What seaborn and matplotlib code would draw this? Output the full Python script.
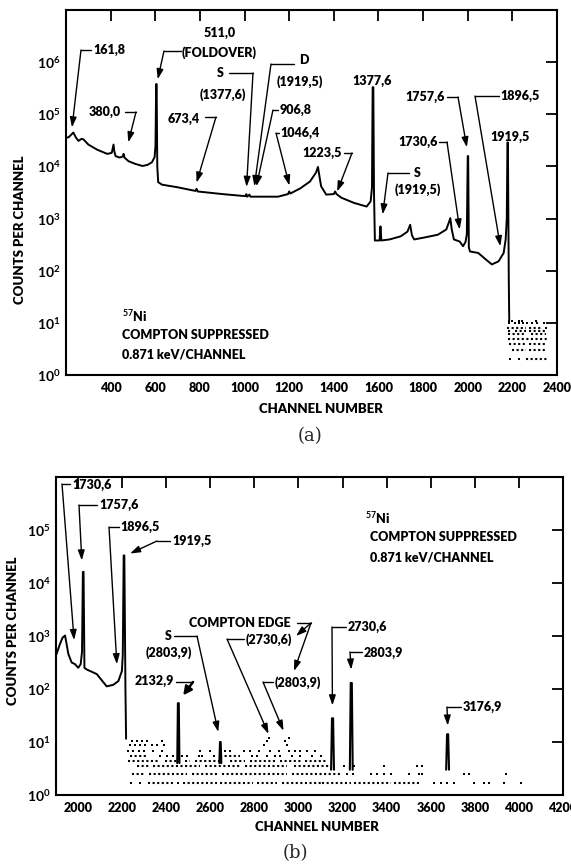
import matplotlib
matplotlib.use("Agg")
import matplotlib.pyplot as plt
import seaborn as sns
import pandas as pd
from matplotlib.lines import Line2D
from matplotlib.ticker import FixedLocator, FixedFormatter, NullLocator

# ---------------- data: panel (a) ----------------
a_channel = [200, 212, 233, 245, 256, 270, 278, 300, 340, 385,
             405, 413, 416, 422, 440, 455, 458, 462, 480, 510,
             543, 565, 585, 597, 601, 604, 606, 609, 613, 630,
             700, 780, 785, 790, 900, 1004, 1008, 1012, 1022, 1026,
             1080, 1150, 1195, 1200, 1205, 1250, 1293, 1320, 1329, 1336,
             1343, 1366, 1400, 1406, 1412, 1434, 1490, 1547, 1565, 1571,
             1574, 1577, 1580, 1584, 1605, 1609, 1613, 1650, 1700, 1730,
             1742, 1750, 1760, 1810, 1866, 1904, 1915, 1922, 1928, 1938,
             1964, 1979, 1990, 1996, 2000, 2002, 2005, 2010, 2047, 2080,
             2108, 2138, 2161, 2170, 2175, 2178, 2180, 2184, 2186]
a_counts = [35500, 36300, 44700, 35500, 30900, 33900, 33100, 26300, 20900, 17400,
            18200, 26300, 20000, 15800, 14800, 15500, 17400, 14800, 12600, 11200,
            10200, 10700, 12000, 15100, 25100, 380000, 380000, 10000, 5000, 4470,
            3980, 3390, 3720, 3310, 2950, 2690, 2950, 2630, 2880, 2630,
            2630, 2630, 2950, 3310, 3020, 3800, 5130, 7590, 9770, 6310,
            4170, 2880, 2950, 3310, 2950, 2510, 2000, 1700, 2140, 3980,
            331000, 331000, 3160, 380, 380, 708, 380, 398, 457, 562,
            759, 479, 398, 437, 490, 617, 832, 1020, 631, 398,
            363, 295, 355, 501, 15800, 15800, 282, 234, 219, 166,
            132, 151, 219, 398, 1000, 28800, 28800, 63, 11.5]

# low-count channels shown as rows of dots (count level -> channel runs / single channels)
a_dot_runs = {
    2: [(2259, 2357)],
    3: [(2198, 2259), (2274, 2357)],
    4: [(2186, 2259), (2274, 2357)],
    5: [(2180, 2357)],
    6: [(2180, 2259), (2282, 2350)],
    7: [(2180, 2198), (2214, 2259), (2274, 2357)],
    8: [(2176, 2259), (2274, 2334)],
}
a_dot_single = {
    2: [2191, 2229],
    8: [2350],
    10: [2183, 2214, 2229, 2247, 2266, 2289, 2312, 2342],
    11: [2186, 2198, 2229, 2244, 2304],
}

# ---------------- data: panel (b) ----------------
b_channel = [1900, 1918, 1930, 1941, 1948, 1956, 1971, 1986, 2001, 2012,
             2018, 2022, 2025, 2029, 2039, 2085, 2130, 2160, 2183, 2199,
             2203, 2207, 2210, 2215, 2218]
b_counts = [427, 708, 933, 1020, 708, 457, 316, 295, 251, 295,
            501, 16200, 16200, 251, 234, 191, 112, 120, 141, 219,
            457, 33100, 33100, 100, 11.5]

b_spike_channels = [[2450, 2453, 2457, 2460],
                    [2641, 2644, 2647, 2650],
                    [3148, 3152, 3157, 3161],
                    [3233, 3237, 3242, 3246],
                    [3670, 3674, 3679, 3683]]
b_spike_counts = [[4, 54, 54, 4],
                  [4, 10, 10, 4],
                  [3, 28, 28, 3],
                  [3, 130, 130, 3],
                  [3, 14, 14, 3]]

b_dot_runs = {
    1.7: [(2318, 2432), (2477, 2632), (2645, 2795), (2814, 2903), (2926, 3100),
          (3108, 3236), (3251, 3418), (3432, 3554)],
    2.5: [(2244, 2297), (2320, 2494), (2517, 2630), (2653, 2948), (2971, 3199)],
    3.5: [(2267, 2327), (2341, 2555), (2577, 2736), (2759, 2948), (2978, 3145)],
    4.4: [(2227, 2373), (2395, 2455), (2486, 2509), (2532, 2655), (2691, 2759),
          (2782, 2895), (2918, 3010), (3030, 3130)],
    5.5: [(2236, 2312), (2645, 2736)],
}
b_dot_single = {
    1.7: [2240, 2282, 2455, 3615, 3645, 3676, 3706, 3797, 3842, 3865, 3933, 4009],
    2.5: [3221, 3248, 3327, 3357, 3388, 3418, 3501, 3547, 3562, 3751, 3774, 3941],
    3.5: [3206, 3252, 3388, 3539, 3562],
    5.5: [2373, 2403, 2433, 2471, 2494, 2547, 2562, 2615, 2789, 2812, 2858, 2895,
          2918, 2971, 3009, 3062, 3100],
    6.8: [2227, 2250, 2275, 2300, 2340, 2380, 2555, 2600, 2645, 2668, 2691, 2751,
          2782, 2819, 2873, 2910, 2956, 2986, 3009, 3039, 3077],
    8.7: [2236, 2259, 2282, 2305, 2335, 2358, 2388, 2842, 2948],
    10.6: [2244, 2267, 2290, 2312, 2380, 2858, 2941],
    12: [2865, 2956],
}

a_xticks = [400, 600, 800, 1000, 1200, 1400, 1600, 1800, 2000, 2200, 2400]
b_xticks = [2000, 2200, 2400, 2600, 2800, 3000, 3200, 3400, 3600, 3800, 4000, 4200]
a_yticks = [1, 10, 100, 1e3, 1e4, 1e5, 1e6]
a_ylabels = ["$10^{0}$", "$10^{1}$", "$10^{2}$", "$10^{3}$", "$10^{4}$", "$10^{5}$", "$10^{6}$"]
b_yticks = [1, 10, 100, 1e3, 1e4, 1e5, 1e6]
b_ylabels = ["$10^{0}$", "$10^{1}$", "$10^{2}$", "$10^{3}$", "$10^{4}$", "$10^{5}$", ""]

# ---------------- style ----------------
W, H = 571, 865
sns.set_style("white")
plt.rcParams["font.family"] = ["Lato", "DejaVu Sans"]
plt.rcParams["font.weight"] = "heavy"
plt.rcParams["mathtext.fontset"] = "custom"
plt.rcParams["mathtext.rm"] = "Lato:bold"
plt.rcParams["mathtext.it"] = "Lato:bold"
plt.rcParams["mathtext.bf"] = "Lato:bold"
LBL = 9
XTICK = 9
YTICK = 10
LW = 1.4

fig = plt.figure(figsize=(W / 100, H / 100), dpi=100)
fig.patch.set_facecolor("white")
axA = fig.add_axes([66 / W, 1 - 375 / H, (557 - 66) / W, (375 - 10) / H])
axB = fig.add_axes([56 / W, 1 - 795 / H, (563 - 56) / W, (795 - 477) / H])


def ff(x, y):
    return (x / W, 1 - y / H)


def style_axes(ax, xlim, ylim, xt, yt, yl):
    ax.set_yscale("log")
    ax.set_xlim(*xlim)
    ax.set_ylim(*ylim)
    ax.xaxis.set_major_locator(FixedLocator(xt))
    ax.xaxis.set_major_formatter(FixedFormatter([str(v) for v in xt]))
    ax.yaxis.set_major_locator(FixedLocator(yt))
    ax.yaxis.set_major_formatter(FixedFormatter(yl))
    ax.yaxis.set_minor_locator(NullLocator())
    ax.xaxis.set_minor_locator(NullLocator())
    ax.tick_params(which="major", direction="in", length=8, width=1.3,
                   top=True, right=True, pad=5, colors="k")
    ax.tick_params(axis="x", labelsize=XTICK, pad=5)
    ax.tick_params(axis="y", labelsize=YTICK, pad=4)
    for s in ax.spines.values():
        s.set_linewidth(1.5)
        s.set_color("k")
        s.set_visible(True)
    ax.set_xlabel("")
    ax.set_ylabel("")
    ax.set_facecolor("white")


def draw_dots(ax, runs, singles):
    for lvl, segs in runs.items():
        for s0, s1 in segs:
            ax.hlines(lvl, s0, s1, colors="k", linewidth=1.5,
                      linestyles=(0, (1.0, 1.2)))
    rows = [(c, lvl) for lvl, chs in singles.items() for c in chs]
    df = pd.DataFrame(rows, columns=["channel", "counts"])
    sns.scatterplot(data=df, x="channel", y="counts", ax=ax, color="k",
                    marker="s", s=3.5, linewidth=0, legend=False)


def text(x, y, s, ha="center", size=LBL, **kw):
    fig.text(x / W, 1 - y / H, s, ha=ha, va="center", fontsize=size,
             fontweight="heavy", color="k", **kw)


def leader(ax, pts, tip=None, lw=1.0, head="-|>,head_length=0.6,head_width=0.2",
           tip_px=None, stub_lw=None):
    slw = lw if stub_lw is None else stub_lw
    for p, q in zip(pts[:-1], pts[1:]):
        fig.add_artist(Line2D([p[0] / W, q[0] / W], [1 - p[1] / H, 1 - q[1] / H],
                              transform=fig.transFigure, color="k", lw=slw))
    start = ff(*pts[-1])
    if tip is not None:
        ax.annotate("", xy=tip, xycoords="data", xytext=start,
                    textcoords="figure fraction",
                    arrowprops=dict(arrowstyle=head, lw=lw, color="k",
                                    shrinkA=0, shrinkB=0))
    if tip_px is not None:
        ax.annotate("", xy=ff(*tip_px), xycoords="figure fraction", xytext=start,
                    textcoords="figure fraction",
                    arrowprops=dict(arrowstyle=head, lw=lw, color="k",
                                    shrinkA=0, shrinkB=0))


# ---------------- panel (a) ----------------
style_axes(axA, (200, 2400), (1, 1e7), a_xticks, a_yticks, a_ylabels)
sns.lineplot(x=a_channel, y=a_counts, ax=axA, color="k", lw=LW,
             sort=False, estimator=None)
draw_dots(axA, a_dot_runs, a_dot_single)
style_axes(axA, (200, 2400), (1, 1e7), a_xticks, a_yticks, a_ylabels)

ann_a = [
    ([("161,8", 109, 50)], [(91, 50), (81, 50)], (227, 56000)),
    ([("380,0", 105, 112)], [(125, 112), (136, 112)], (479, 29000)),
    ([("511,0", 220, 33), ("(FOLDOVER)", 219, 53)], [(181, 51), (164, 51)], (611, 470000)),
    ([("673,4", 184, 119)], [(205, 117), (216, 117)], (785, 4900)),
    ([("S", 220, 73), ("(1377,6)", 223, 95)], [(229, 73), (253, 73)], (1009, 4050)),
    ([("D", 304, 60), ("(1919,5)", 300, 82)], [(294, 64), (271, 64)], (1044, 4170)),
    ([("906,8", 296, 110)], [(278, 110), (273, 110)], (1053, 4170)),
    ([("1046,4", 300, 133)], [(279, 133), (276, 133)], (1201, 4300)),
    ([("1223,5", 322, 153)], [(344, 153), (352, 153)], (1415, 3300)),
    ([("1377,6", 372, 81)], None, None),
    ([("S", 417, 173), ("(1919,5)", 418, 190)], [(409, 173), (388, 173)], (1619, 1200)),
    ([("1730,6", 418, 142)], [(439, 142), (447, 142)], (1964, 617)),
    ([("1757,6", 425, 97)], [(447, 97), (458, 97)], (1996, 23300)),
    ([("1896,5", 520, 96)], [(499, 96), (475, 96)], (2146, 295)),
    ([("1919,5", 510, 137)], None, None),
]
for texts, pts, tip in ann_a:
    for s, x, y in texts:
        text(x, y, s)
    if pts is not None:
        leader(axA, pts, tip)

text(122, 316, "$^{57}$Ni", ha="left")
text(122, 335, "COMPTON SUPPRESSED", ha="left")
text(122, 355, "0.871 keV/CHANNEL", ha="left")
text(20, 230, "COUNTS PER CHANNEL", rotation=90, size=9.5)
text(321, 409, "CHANNEL NUMBER", size=9.5)
fig.text(310 / W, 1 - 436 / H, "(a)", ha="center", va="center",
         fontsize=13, family="DejaVu Serif", fontweight="normal")

# ---------------- panel (b) ----------------
style_axes(axB, (1900, 4200), (1, 1e6), b_xticks, b_yticks, b_ylabels)
sns.lineplot(x=b_channel, y=b_counts, ax=axB, color="k", lw=LW,
             sort=False, estimator=None)
for chs, cts in zip(b_spike_channels, b_spike_counts):
    sns.lineplot(x=chs, y=cts, ax=axB, color="k", lw=1.5,
                 sort=False, estimator=None)
draw_dots(axB, b_dot_runs, b_dot_single)
style_axes(axB, (1900, 4200), (1, 1e6), b_xticks, b_yticks, b_ylabels)

ann_b = [
    ([("1730,6", 92, 485)], [(70, 484), (62, 484)], (1982, 838)),
    ([("1757,6", 119, 505)], [(97, 505), (79, 505)], (2017, 26600)),
    ([("1896,5", 140, 527)], [(119, 527), (109, 527)], (2176, 293)),
    ([("1919,5", 192, 541)], [(170, 541), (157, 541)], (2236, 36000)),
    ([("S", 168, 636), ("(2803,9)", 169, 653)], [(174, 636), (197, 636)], (2636, 15.5)),
    ([("(2730,6)", 269, 640)], [(244, 639), (227, 639)], (2864, 14.2)),
    ([("(2803,9)", 298, 683)], [(273, 682), (263, 682)], (2932, 16.3)),
    ([("2730,6", 367, 627)], [(346, 627), (332, 627)], (3154, 49)),
    ([("2803,9", 383, 653)], [(362, 652), (350, 652)], (3239, 232)),
    ([("3176,9", 482, 707)], [(461, 707), (447, 707)], (3677, 20.4)),
]
for texts, pts, tip in ann_b:
    for s, x, y in texts:
        text(x, y, s)
    leader(axB, pts, tip)

text(154, 681, "2132,9")
leader(axB, [(176, 682), (193, 682)], (2477, 76), lw=1.8, stub_lw=1.0,
       head="-|>,head_length=0.5,head_width=0.25")

text(240, 623, "COMPTON EDGE")
leader(axB, [(297, 623), (311, 623)], tip_px=(296, 636))
leader(axB, [(311, 623), (311, 623)], tip_px=(294, 671))

text(365, 518, "$^{57}$Ni", ha="left")
text(370, 537, "COMPTON SUPPRESSED", ha="left")
text(370, 557, "0.871 keV/CHANNEL", ha="left")
text(13, 631, "COUNTS PER CHANNEL", rotation=90, size=9.5)
text(317, 827, "CHANNEL NUMBER", size=9.5)
fig.text(295 / W, 1 - 853 / H, "(b)", ha="center", va="center",
         fontsize=13, family="DejaVu Serif", fontweight="normal")

fig.savefig("out.png", dpi=100, facecolor="white")
